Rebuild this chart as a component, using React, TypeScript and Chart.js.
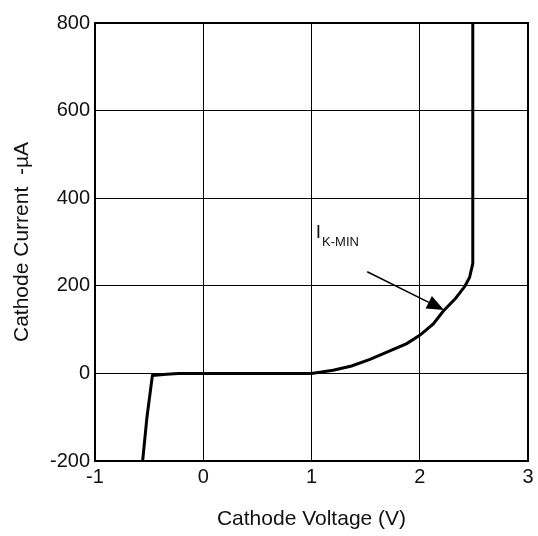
import React, { useEffect, useRef } from "react";
import { Chart, registerables } from "chart.js";

Chart.register(...registerables);

// Curve: cathode voltage (V) vs cathode current (µA)
const voltage = [-0.56, -0.52, -0.47, -0.34, -0.23, 1.0, 1.2, 1.37, 1.54, 1.88, 2.0, 2.125, 2.22, 2.33, 2.42, 2.46, 2.49, 2.49];
const current = [-200, -100, -5, -2, 0, 0, 7, 17, 32, 68, 87, 113, 143, 171, 200, 219, 251, 800];

const xTicks = [-1, 0, 1, 2, 3];
const yTicks = [-200, 0, 200, 400, 600, 800];

const xTitle = "Cathode Voltage (V)";
const yTitle = "Cathode Current  -\u00B5A";

// Annotation "I K-MIN" with an arrow (data coordinates)
const labelMain = "I";
const labelSub = "K-MIN";
const labelPos = [1.04, 308];
const arrowFrom = [1.515, 232];
const arrowTo = [2.224, 145];

const FONT = "'Liberation Sans', Arial, Helvetica, sans-serif";

const framePlugin = {
  id: "frame",
  beforeDatasetsDraw(chart: any) {
    const { ctx, chartArea } = chart;
    ctx.save();
    ctx.strokeStyle = "#000";
    ctx.lineWidth = 2;
    ctx.strokeRect(chartArea.left, chartArea.top, chartArea.right - chartArea.left, chartArea.bottom - chartArea.top);
    ctx.restore();
  },
};

const annotationPlugin = {
  id: "ikmin",
  afterDatasetsDraw(chart: any) {
    const { ctx, scales } = chart;
    const xs = scales.x;
    const ys = scales.y;
    const x0 = xs.getPixelForValue(arrowFrom[0]);
    const y0 = ys.getPixelForValue(arrowFrom[1]);
    const x1 = xs.getPixelForValue(arrowTo[0]);
    const y1 = ys.getPixelForValue(arrowTo[1]);
    const ang = Math.atan2(y1 - y0, x1 - x0);
    const headLen = 17;
    const headW = 7;
    const bx = x1 - headLen * Math.cos(ang);
    const by = y1 - headLen * Math.sin(ang);
    ctx.save();
    ctx.strokeStyle = "#000";
    ctx.fillStyle = "#000";
    ctx.lineWidth = 1.5;
    ctx.beginPath();
    ctx.moveTo(x0, y0);
    ctx.lineTo(bx, by);
    ctx.stroke();
    ctx.beginPath();
    ctx.moveTo(x1, y1);
    ctx.lineTo(bx + headW * Math.sin(ang), by - headW * Math.cos(ang));
    ctx.lineTo(bx - headW * Math.sin(ang), by + headW * Math.cos(ang));
    ctx.closePath();
    ctx.fill();

    const lx = xs.getPixelForValue(labelPos[0]);
    const ly = ys.getPixelForValue(labelPos[1]);
    ctx.fillStyle = "#111";
    ctx.textBaseline = "alphabetic";
    ctx.textAlign = "left";
    ctx.font = `19px ${FONT}`;
    ctx.fillText(labelMain, lx, ly);
    const w = ctx.measureText(labelMain).width;
    ctx.font = `13px ${FONT}`;
    ctx.fillText(labelSub, lx + w + 1, ly + 8);
    ctx.restore();
  },
};

export default function App() {
  const ref = useRef<HTMLCanvasElement>(null);

  useEffect(() => {
    if (!ref.current) return;
    const chart = new Chart(ref.current, {
      type: "line",
      data: {
        datasets: [
          {
            data: voltage.map((v, i) => ({ x: v, y: current[i] })),
            borderColor: "#000",
            borderWidth: 3,
            pointRadius: 0,
            tension: 0,
            fill: false,
          },
        ],
      },
      options: {
        responsive: false,
        animation: false,
        events: [],
        layout: { padding: { top: 23, right: 10, left: 0, bottom: 0 } },
        plugins: { legend: { display: false }, tooltip: { enabled: false } },
        scales: {
          x: {
            type: "linear",
            min: xTicks[0],
            max: xTicks[xTicks.length - 1],
            afterBuildTicks: (s: any) => {
              s.ticks = xTicks.map((v) => ({ value: v }));
            },
            afterFit: (s: any) => {
              s.height = 75;
            },
            ticks: {
              color: "#111",
              font: { family: FONT, size: 20 },
              padding: 4,
              maxRotation: 0,
              autoSkip: false,
            },
            grid: { color: "#000", lineWidth: 1, drawTicks: false },
            border: { display: false },
            title: {
              display: true,
              text: xTitle,
              color: "#111",
              font: { family: FONT, size: 21 },
              padding: { top: 0, bottom: 4 },
            },
          },
          y: {
            type: "linear",
            min: yTicks[0],
            max: yTicks[yTicks.length - 1],
            afterBuildTicks: (s: any) => {
              s.ticks = yTicks.map((v) => ({ value: v }));
            },
            afterFit: (s: any) => {
              s.width = 95;
            },
            ticks: {
              color: "#111",
              font: { family: FONT, size: 20 },
              padding: 5,
              autoSkip: false,
            },
            grid: { color: "#000", lineWidth: 1, drawTicks: false },
            border: { display: false },
            title: {
              display: true,
              text: yTitle,
              color: "#111",
              font: { family: FONT, size: 21 },
              padding: { top: 10, bottom: 0 },
            },
          },
        },
      },
      plugins: [framePlugin, annotationPlugin],
    });
    return () => chart.destroy();
  }, []);

  return (
    <div style={{ position: "absolute", left: 0, top: 0, width: 538, height: 536, background: "#fff" }}>
      <canvas ref={ref} width={538} height={536} style={{ width: 538, height: 536 }} />
    </div>
  );
}
